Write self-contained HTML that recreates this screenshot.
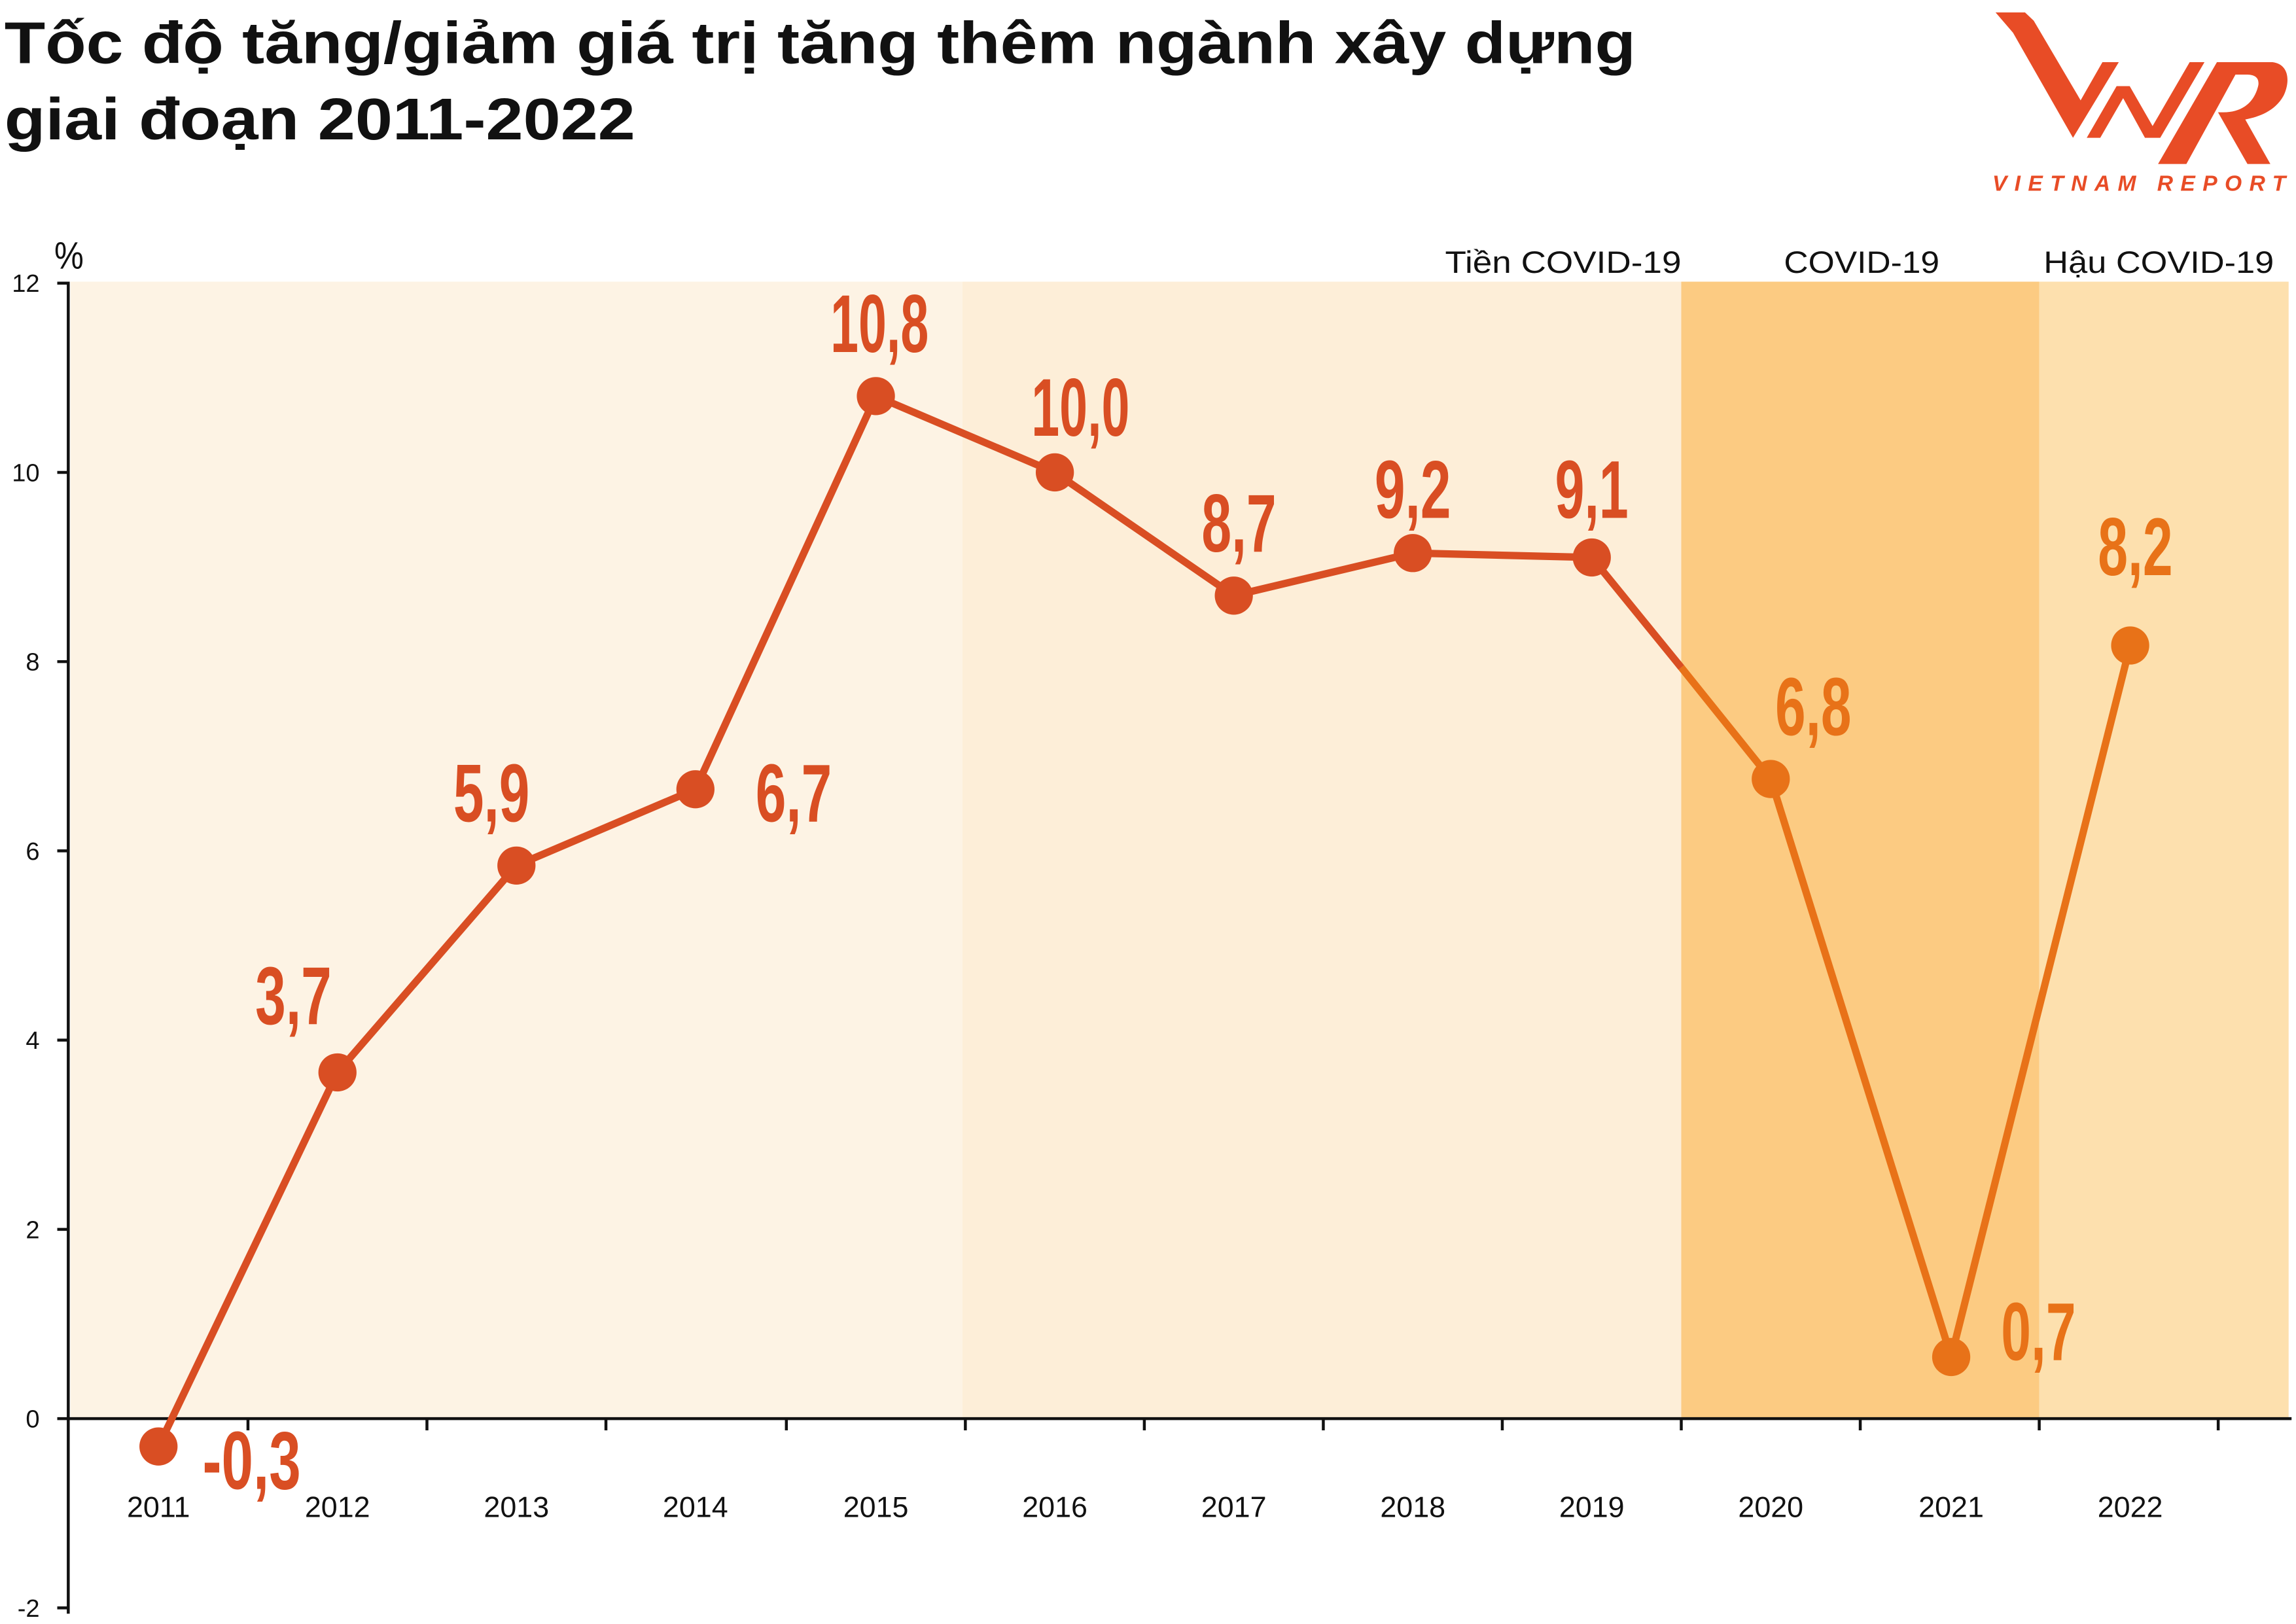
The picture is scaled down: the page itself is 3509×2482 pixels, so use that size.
<!DOCTYPE html>
<html><head><meta charset="utf-8"><style>
html,body{margin:0;padding:0;background:#fff;}
svg{display:block;}
</style></head><body>
<svg width="3509" height="2482" viewBox="0 0 1565 1107" xmlns="http://www.w3.org/2000/svg">
<rect width="1565" height="1107" fill="#fff"/>
<!-- title -->
<g font-family="'Liberation Sans', sans-serif" font-weight="bold" fill="#111">
<text x="3" y="43" font-size="40" textLength="1112" lengthAdjust="spacingAndGlyphs">Tốc độ tăng/giảm giá trị tăng thêm ngành xây dựng</text>
<text x="3" y="95" font-size="40" textLength="430" lengthAdjust="spacingAndGlyphs">giai đoạn 2011-2022</text>
</g>
<!-- logo -->
<g transform="scale(0.44598) translate(3000,0) scale(0.33333)" fill="#e84c26">
<polygon points="150,57 285,57 325,95 540,460 640,285 715,285 505,632 230,150"/>
<polygon points="568,632 705,395 765,395 870,578 1040,285 1108,285 905,632 835,632 735,450 630,632"/>
<path d="M895,752 L1165,285 L1420,285 C1500,295 1500,380 1470,440 C1430,510 1360,535 1295,548 L1410,752 L1305,752 L1170,515 L1195,515 C1290,515 1340,460 1355,390 C1360,350 1330,342 1300,342 L1250,342 L1025,752 Z"/>
</g>
<text x="1358" y="130" font-family="'Liberation Sans', sans-serif" font-weight="bold" font-style="italic" font-size="15" fill="#e84c26" textLength="200" lengthAdjust="spacing">VIETNAM REPORT</text>
<!-- backgrounds -->
<rect x="48" y="192" width="608" height="775" fill="#fdf3e4"/>
<rect x="656" y="192" width="490" height="775" fill="#fdeed8"/>
<rect x="1146" y="192" width="244" height="775" fill="#fccb82"/>
<rect x="1390" y="192" width="170" height="775" fill="#fde0ae"/>
<!-- period labels -->
<g font-family="'Liberation Sans', sans-serif" font-size="21" fill="#111">
<text x="985" y="186" textLength="161" lengthAdjust="spacingAndGlyphs">Tiền COVID-19</text>
<text x="1216" y="186" textLength="106" lengthAdjust="spacingAndGlyphs">COVID-19</text>
<text x="1393" y="186" textLength="157" lengthAdjust="spacingAndGlyphs">Hậu COVID-19</text>
</g>
<!-- axes -->
<g stroke="#111" stroke-width="2">
<line x1="46.5" y1="192" x2="46.5" y2="1100"/>
<line x1="39" y1="193" x2="47" y2="193"/>
<line x1="39" y1="322" x2="47" y2="322"/>
<line x1="39" y1="451" x2="47" y2="451"/>
<line x1="39" y1="580" x2="47" y2="580"/>
<line x1="39" y1="709" x2="47" y2="709"/>
<line x1="39" y1="838" x2="47" y2="838"/>
<line x1="39" y1="967" x2="47" y2="967"/>
<line x1="39" y1="1096" x2="47" y2="1096"/>
<line x1="46" y1="967" x2="1562" y2="967"/>
<line x1="169" y1="967" x2="169" y2="975"/>
<line x1="291" y1="967" x2="291" y2="975"/>
<line x1="413" y1="967" x2="413" y2="975"/>
<line x1="536" y1="967" x2="536" y2="975"/>
<line x1="658" y1="967" x2="658" y2="975"/>
<line x1="780" y1="967" x2="780" y2="975"/>
<line x1="902" y1="967" x2="902" y2="975"/>
<line x1="1024" y1="967" x2="1024" y2="975"/>
<line x1="1146" y1="967" x2="1146" y2="975"/>
<line x1="1268" y1="967" x2="1268" y2="975"/>
<line x1="1390" y1="967" x2="1390" y2="975"/>
<line x1="1512" y1="967" x2="1512" y2="975"/>
</g>
<g font-family="'Liberation Sans Narrow', 'Liberation Sans', sans-serif" font-size="17" fill="#111" text-anchor="end">
<text x="27" y="199">12</text><text x="27" y="328">10</text><text x="27" y="457">8</text>
<text x="27" y="586">6</text><text x="27" y="715">4</text><text x="27" y="844">2</text>
<text x="27" y="973">0</text><text x="27" y="1102">-2</text>
</g>
<text x="37" y="183" font-family="'Liberation Sans Narrow', 'Liberation Sans', sans-serif" font-size="26" fill="#111" textLength="20" lengthAdjust="spacingAndGlyphs">%</text>
<g font-family="'Liberation Sans', sans-serif" font-size="20" fill="#111" text-anchor="middle">
<text x="108" y="1034">2011</text><text x="230" y="1034">2012</text><text x="352" y="1034">2013</text>
<text x="474" y="1034">2014</text><text x="597" y="1034">2015</text><text x="719" y="1034">2016</text>
<text x="841" y="1034">2017</text><text x="963" y="1034">2018</text><text x="1085" y="1034">2019</text>
<text x="1207" y="1034">2020</text><text x="1330" y="1034">2021</text><text x="1452" y="1034">2022</text>
</g>
<!-- series -->
<polyline fill="none" stroke="#d94e23" stroke-width="5" stroke-linejoin="round" points="108,986 230,731 352,590 474,538 597,270 719,322 841,406 963,377 1085,380 1146,455"/>
<polyline fill="none" stroke="#e87218" stroke-width="5" stroke-linejoin="round" points="1146,455 1207,531 1330,925 1452,440"/>
<g fill="#d94e23">
<circle cx="108" cy="986" r="13"/><circle cx="230" cy="731" r="13"/><circle cx="352" cy="590" r="13"/>
<circle cx="474" cy="538" r="13"/><circle cx="597" cy="270" r="13"/><circle cx="719" cy="322" r="13"/>
<circle cx="841" cy="406" r="13"/><circle cx="963" cy="377" r="13"/><circle cx="1085" cy="380" r="13"/>
</g>
<g fill="#e87218">
<circle cx="1207" cy="531" r="13"/><circle cx="1330" cy="925" r="13"/><circle cx="1452" cy="440" r="13"/>
</g>
<!-- value labels -->
<g font-family="'Liberation Sans Narrow', 'Liberation Sans', sans-serif" font-weight="bold" font-size="56" fill="#d94e23" lengthAdjust="spacingAndGlyphs">
<text x="138" y="1015" textLength="67" lengthAdjust="spacingAndGlyphs">-0,3</text>
<text x="174" y="698" textLength="52" lengthAdjust="spacingAndGlyphs">3,7</text>
<text x="309" y="560" textLength="52" lengthAdjust="spacingAndGlyphs">5,9</text>
<text x="515" y="560" textLength="52" lengthAdjust="spacingAndGlyphs">6,7</text>
<text x="566" y="240" textLength="67" lengthAdjust="spacingAndGlyphs">10,8</text>
<text x="703" y="297" textLength="67" lengthAdjust="spacingAndGlyphs">10,0</text>
<text x="819" y="376" textLength="51" lengthAdjust="spacingAndGlyphs">8,7</text>
<text x="937" y="353" textLength="52" lengthAdjust="spacingAndGlyphs">9,2</text>
<text x="1060" y="353" textLength="50" lengthAdjust="spacingAndGlyphs">9,1</text>
</g>
<g font-family="'Liberation Sans Narrow', 'Liberation Sans', sans-serif" font-weight="bold" font-size="56" fill="#e87218">
<text x="1210" y="501" textLength="52" lengthAdjust="spacingAndGlyphs">6,8</text>
<text x="1364" y="927" textLength="51" lengthAdjust="spacingAndGlyphs">0,7</text>
<text x="1430" y="392" textLength="51" lengthAdjust="spacingAndGlyphs">8,2</text>
</g>
</svg>
</body></html>
